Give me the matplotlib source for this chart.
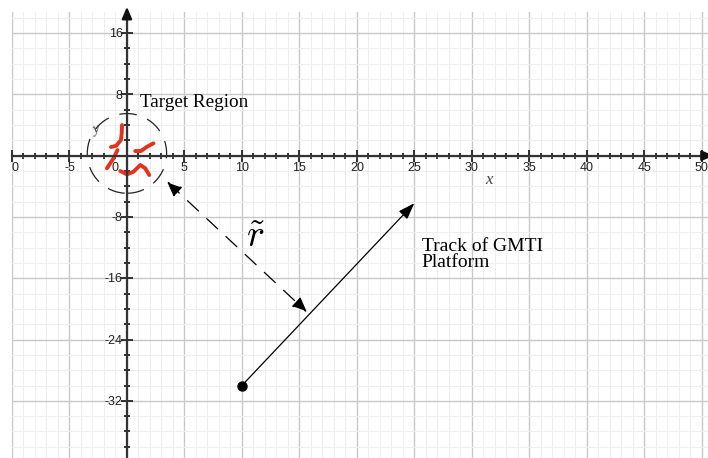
import matplotlib
matplotlib.use("Agg")
import matplotlib.pyplot as plt
import numpy as np
from matplotlib.patches import Ellipse, FancyArrowPatch

plt.rcParams["mathtext.fontset"] = "cm"

# axis ranges and tick labels
x_range = (-10, 50.55)
y_range = (-39.46, 18.76)
x_label_pos = [-10, -5, 0, 5, 10, 15, 20, 25, 30, 35, 40, 45, 50]
x_label_txt = ["0", "-5", "0", "5", "10", "15", "20", "25", "30", "35", "40", "45", "50"]
y_label_pos = [16, 8, -8, -16, -24, -32]
y_label_txt = ["16", "8", "-8", "-16", "-24", "-32"]

# target region sketch (red strokes)
stroke1_x = [-0.43, -0.45, -0.52, -0.93, -1.39]
stroke1_y = [4.0, 3.0, 2.05, 1.3, 1.13]
stroke2_x = [-0.82, -1.17, -1.74]
stroke2_y = [0.74, -0.34, -1.64]
stroke3_x = [0.72, 1.22, 1.74, 2.31]
stroke3_y = [0.61, 0.61, 1.17, 1.62]
stroke4_x = [-0.58, 0.0, 0.57, 1.16, 1.59, 1.94]
stroke4_y = [-2.0, -2.43, -2.09, -1.21, -1.64, -2.52]
target_center = (0.0, 0.3)
target_size = (6.9, 10.4)

# platform track and range vector
track_start = (10, -30)
track_end = (25, -6.2)
range_a = (3.5, -3.4)
range_b = (15.65, -20.4)

fig = plt.figure(figsize=(7.08, 4.58), dpi=100)
ax = fig.add_axes([12 / 708, 0, 696 / 708, 446 / 458])
ax.set_xlim(*x_range)
ax.set_ylim(*y_range)

# grid
ax.set_xticks(np.arange(-10, 51, 5))
ax.set_xticks(np.arange(-10, 51, 1), minor=True)
ax.set_yticks(np.arange(-32, 19, 8))
ax.set_yticks(np.arange(-38, 19, 2), minor=True)
ax.grid(which="minor", color="#eeeeee", lw=0.8)
ax.grid(which="major", color="#c8c8c8", lw=1.0)
ax.set_axisbelow(True)

for side in ["top", "right"]:
    ax.spines[side].set_visible(False)
for side in ["left", "bottom"]:
    ax.spines[side].set_position("zero")
    ax.spines[side].set_color("#333333")
    ax.spines[side].set_linewidth(1.6)
ax.tick_params(which="both", direction="inout", color="#222222", labelleft=False, labelbottom=False)
ax.tick_params(which="major", length=8, width=1.3)
ax.tick_params(which="minor", length=5, width=1.3)

# axis arrows
ax.annotate("", xy=(0, 19.8), xytext=(0, 17.5), annotation_clip=False,
            arrowprops=dict(arrowstyle="-|>,head_length=0.7,head_width=0.3", color="#111111", lw=1.6))
ax.annotate("", xy=(51.3, 0), xytext=(50, 0), annotation_clip=False,
            arrowprops=dict(arrowstyle="-|>,head_length=0.7,head_width=0.3", color="#111111", lw=1.6))

tick_font = dict(family="Liberation Sans", fontsize=9, color="#222222")
for pos, txt in zip(x_label_pos, x_label_txt):
    dx = -8.6 if pos == 0 else 0
    if pos == x_range[0]:
        dx = 2
    ax.annotate(txt, (pos, 0), xytext=(dx, -8.6), textcoords="offset points",
                ha="center", va="center", annotation_clip=False, **tick_font)
for pos, txt in zip(y_label_pos, y_label_txt):
    ax.annotate(txt, (0, pos), xytext=(-3, -0.8), textcoords="offset points",
                ha="right", va="center", **tick_font)

# target region
ax.add_patch(Ellipse(target_center, *target_size, fill=False, ec="#222222",
                     lw=0.9, ls=(0, (14, 9))))
red = "#e2341d"
for sx, sy in [(stroke1_x, stroke1_y), (stroke2_x, stroke2_y),
               (stroke3_x, stroke3_y), (stroke4_x, stroke4_y)]:
    ax.plot(sx, sy, color=red, lw=2.8, solid_capstyle="round", solid_joinstyle="round")

ax.text(-2.7, 3.4, "y", family="Liberation Serif", style="italic", fontsize=11,
        color="#444444", rotation=15, ha="center", va="center")
ax.text(31.5, -3.2, "x", family="Liberation Serif", style="italic", fontsize=12,
        color="#444444", ha="center", va="center")
ax.text(1.16, 6.9, "Target Region", family="Liberation Serif", fontsize=13.8,
        ha="left", va="center")
ax.text(25.65, -12.9, "Track of GMTI\nPlatform", family="Liberation Serif", fontsize=14,
        ha="left", va="center", linespacing=0.95)

# platform track
ax.annotate("", xy=track_end, xytext=track_start,
            arrowprops=dict(arrowstyle="-|>,head_length=1.0,head_width=0.35", color="black",
                            lw=0.9, shrinkA=0, shrinkB=0))
ax.plot(*track_start, "o", color="black", ms=6.5)

# range vector
ax.add_patch(FancyArrowPatch(range_a, range_b, arrowstyle="<|-|>,head_length=7,head_width=3",
                             color="black", lw=0.9, ls=(0, (12, 9)), shrinkA=0, shrinkB=0,
                             mutation_scale=1.3))
ax.text(11.2, -10.6, r"$\tilde{r}$", fontsize=27, ha="center", va="center")

fig.savefig("out.png", dpi=100)
